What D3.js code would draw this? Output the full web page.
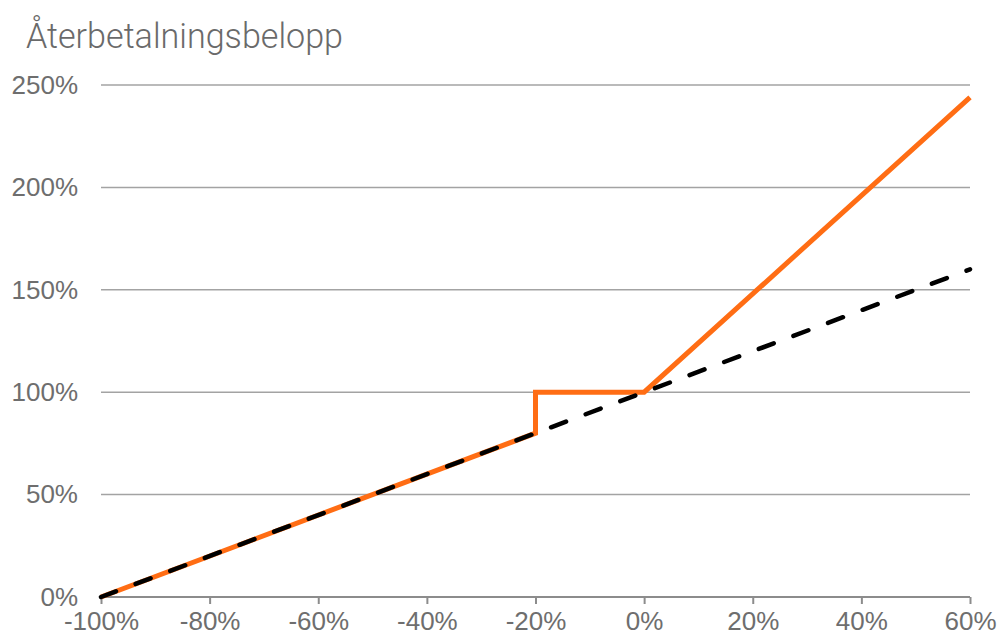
<!DOCTYPE html>
<html>
<head>
<meta charset="utf-8">
<script src="https://cdn.jsdelivr.net/npm/d3@7"></script>
<style>
  html, body { margin: 0; padding: 0; background: #fff; }
  svg { display: block; }
</style>
</head>
<body>
<svg id="chart" width="998" height="640"></svg>
<script>
// Underlying performance (x, %) and the resulting repayment amount (y, %)
const productX = [-100, -20, -20, 0, 60];
const productY = [0, 80, 100, 100, 244];
const underlyingX = [-100, 60];
const underlyingY = [0, 160];
const xTicks = [-100, -80, -60, -40, -20, 0, 20, 40, 60];
const yTicks = [0, 50, 100, 150, 200, 250];
const titleText = "Återbetalningsbelopp";

(function () {
  const svg = d3.select("#chart");
  const plotLeft = 101, plotRight = 970, plotTop = 85, plotBottom = 597;

  const x = d3.scaleLinear().domain([-100, 60]).range([plotLeft, plotRight]);
  const y = d3.scaleLinear().domain([0, 250]).range([plotBottom, plotTop]);

  // Horizontal gridlines
  svg.append("g")
    .selectAll("line")
    .data(yTicks.filter(d => d > 0))
    .join("line")
    .attr("x1", plotLeft).attr("x2", plotRight)
    .attr("y1", d => y(d)).attr("y2", d => y(d))
    .attr("stroke", "#a3a3a3").attr("stroke-width", 1.5);

  // Y axis labels
  const yAxis = d3.axisLeft(y).tickValues(yTicks).tickSize(0).tickPadding(23)
    .tickFormat(d => d + "%");
  const gy = svg.append("g").attr("transform", `translate(${plotLeft},0)`).call(yAxis);
  gy.select(".domain").remove();
  gy.selectAll("text")
    .attr("font-family", "'Liberation Sans', Arial, sans-serif")
    .attr("font-size", 26).attr("fill", "#6e6e6e");

  // X axis
  const xAxis = d3.axisBottom(x).tickValues(xTicks).tickSize(7).tickPadding(8)
    .tickFormat(d => d + "%");
  const gx = svg.append("g").attr("transform", `translate(0,${plotBottom})`).call(xAxis);
  gx.select(".domain").attr("stroke", "#8c8c8c").attr("stroke-width", 2)
    .attr("d", `M${plotLeft},0H${plotRight}`);
  gx.selectAll(".tick line").attr("stroke", "#8c8c8c").attr("stroke-width", 2);
  gx.selectAll("text")
    .attr("font-family", "'Liberation Sans', Arial, sans-serif")
    .attr("font-size", 26).attr("fill", "#6e6e6e");

  const line = d3.line().x(d => x(d[0])).y(d => y(d[1]));

  // Product payoff (orange)
  svg.append("path")
    .datum(d3.zip(productX, productY))
    .attr("d", line)
    .attr("fill", "none")
    .attr("stroke", "#ff6d14")
    .attr("stroke-width", 5)
    .attr("stroke-linejoin", "miter");

  // Underlying (dashed black)
  svg.append("path")
    .datum(d3.zip(underlyingX, underlyingY))
    .attr("d", line)
    .attr("fill", "none")
    .attr("stroke", "#000")
    .attr("stroke-width", 4.5)
    .attr("stroke-linecap", "round")
    .attr("stroke-dasharray", "16,21");

  // Title
  svg.append("text")
    .attr("x", 26).attr("y", 48)
    .attr("font-family", "Roboto, 'Open Sans', sans-serif")
    .attr("font-weight", 300)
    .attr("font-size", 35)
    .attr("fill", "#6a6a6a")
    .attr("textLength", 317)
    .attr("lengthAdjust", "spacingAndGlyphs")
    .text(titleText);
})();
</script>
</body>
</html>
